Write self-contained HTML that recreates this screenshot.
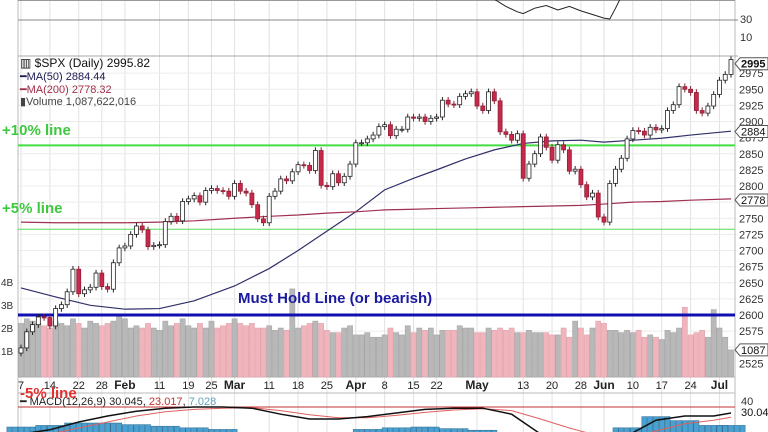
<!DOCTYPE html>
<html><head><meta charset="utf-8">
<style>
html,body{margin:0;padding:0;background:#fff;}
svg{display:block;font-family:"Liberation Sans",sans-serif;}
</style></head>
<body>
<svg id="chart" width="768" height="432" viewBox="0 0 768 432" xmlns="http://www.w3.org/2000/svg">
<rect width="768" height="432" fill="#fff"/>
<g id="grid"></g>
<g id="rsi">
  <line x1="18" y1="20" x2="738" y2="20" stroke="#888" stroke-width="1"/>
  <line x1="18" y1="56" x2="738" y2="56" stroke="#aaa" stroke-width="1"/>
  <text x="740" y="23" font-size="11" fill="#333">30</text>
  <text x="740" y="41" font-size="11" fill="#333">10</text>
</g>
<g id="vol"></g>
<g id="levels"></g>
<g id="ma"></g>
<g id="candles"></g>
<g id="axis"></g>
<g id="macd"></g>
<g font-size="11">
  <text x="20" y="67" font-size="12" fill="#111">▥ $SPX (Daily) 2995.82</text>
  <text x="20" y="80" fill="#1a1a50">━MA(50) 2884.44</text>
  <text x="20" y="93" fill="#a0304a">━MA(200) 2778.32</text>
  <text x="20" y="105" fill="#444">▮Volume 1,087,622,016</text>
</g>
<text x="2" y="135" font-size="15" font-weight="bold" fill="#3ec83e">+10% line</text>
<text x="2" y="213" font-size="15" font-weight="bold" fill="#3ec83e">+5% line</text>
<text x="238" y="303" font-size="15" font-weight="bold" fill="#1a1aa0">Must Hold Line (or bearish)</text>
<text x="20" y="398" font-size="15" font-weight="bold" fill="#e03030">-5% line</text>
</svg>
<script>
const closes=[2549,2574,2585,2597,2596,2583,2610,2616,2636,2671,2633,2639,2643,2665,2644,2640,2681,2704,
2707,2725,2738,2732,2706,2708,2709,2745,2753,2746,2776,2780,2785,2775,2793,2796,2793,2792,2784,
2804,2792,2789,2771,2749,2743,2784,2792,2811,2808,2822,2833,2832,2824,2855,2801,2799,2819,2805,2815,2834,
2867,2867,2873,2879,2892,2895,2878,2888,2888,2907,2905,2907,2900,2905,2907,2933,2927,2926,2939,2943,2946,
2924,2917,2946,2932,2884,2880,2871,2881,2812,2834,2850,2876,2860,2840,2864,2856,2823,2826,2802,2783,2789,2752,
2744,2804,2826,2843,2873,2886,2885,2879,2891,2887,2889,2917,2926,2954,2950,2945,2917,2913,2924,2942,
2964,2973,2996];
const volumes=[2.2,2.4,2.3,2.2,2.1,2.0,2.3,2.2,2.1,2.4,2.2,2.0,2.3,2.2,2.1,2.2,2.3,2.6,
2.4,2.0,2.1,2.0,2.2,2.0,1.9,2.3,2.1,2.2,2.4,2.1,2.0,2.2,2.0,2.3,2.0,2.1,2.2,
2.4,2.2,2.1,2.2,2.0,2.0,2.1,1.9,2.0,1.9,3.7,2.0,2.1,2.2,2.3,2.2,1.9,1.8,1.8,2.0,2.1,
1.7,1.7,1.8,1.6,1.6,1.7,2.0,1.8,1.7,2.1,1.8,2.0,1.9,2.0,1.7,1.9,1.9,1.9,2.1,2.0,2.0,
1.8,1.8,2.0,1.9,2.0,1.9,2.0,1.8,1.8,1.9,1.8,1.8,1.8,1.7,1.7,2.0,1.6,2.3,2.0,1.7,2.0,2.3,
2.2,1.9,1.9,1.8,1.9,1.8,1.9,1.6,1.7,1.6,1.5,1.9,1.8,2.0,2.9,1.7,1.8,1.9,1.6,2.8,
2.0,1.6,1.05];
const maIdx=[0,6,12,18,24,30,37,43,48,53,58,63,68,72,77,82,87,92,97,101,106,111,116,123];
const ma50=[2642,2628,2615,2609,2610,2622,2645,2672,2700,2730,2760,2794,2812,2825,2842,2856,2866,2870,2871,2868,2871,2874,2879,2885];
const ma200=[2744,2743,2743,2743,2744,2746,2750,2753,2755,2758,2760,2763,2764,2765,2766,2767,2768,2769,2770,2772,2775,2776,2778,2780];
const rsiIdx=[82,84,86,87,89,91,93,95,97,99,101,102,103,104];
const rsiVals=[52,44,38,36,42,45,40,44,39,35,31,30,42,55];
const macdIdx=[0,5,10,15,20,25,30,35,40,45,50,55,60,65,70,75,80,85,90,95,100,105,110,115,120,123];
const macdLine=[-5,2,15,25,33,38,40,40,38,28,20,20,24,30,36,38,38,28,-5,-15,-25,-8,18,25,25,30];
const signalLine=[-10,-5,5,15,25,32,36,38,39,34,27,22,22,26,31,35,37,34,20,5,-8,-12,0,12,18,23];
const dateIdx=[0,5,10,14,18,24,29,33,37,43,48,53,58,63,68,72,79,87,92,97,101,106,111,116,121];
const dateLabels=["7","14","22","28","Feb","11","19","25","Mar","11","18","25","Apr","8","15","22","May","13","20","28","Jun","10","17","24","Jul"];
const priceTicks=[2525,2550,2575,2600,2625,2650,2675,2700,2725,2750,2775,2800,2825,2850,2875,2900,2925,2950,2975];
const volTicks=[1,2,3,4];
const levelPrices=[2863,2733,2600];

const NS="http://www.w3.org/2000/svg";
const X0=21,X1=731;
const xs=i=>X0+i*(X1-X0)/(closes.length-1);
const yp=p=>315-(p-2600)*0.645;
const yv=v=>374-v*23;
const yr=v=>19-(v-30)*0.9;
const ym=v=>407+(40-v)*0.6;
function mk(tag,attrs,parent){const e=document.createElementNS(NS,tag);for(const k in attrs)e.setAttribute(k,attrs[k]);parent.appendChild(e);return e;}
const G=id=>document.getElementById(id);

const grid=G('grid');
dateIdx.forEach(i=>{const l=mk('line',{x1:xs(i),x2:xs(i),y1:0,y2:432,stroke:'#e2e2e2','stroke-width':1},grid);

});
priceTicks.forEach(p=>{const l=mk('line',{x1:18,x2:735,y1:yp(p),y2:yp(p),stroke:'#ececec','stroke-width':1},grid);

});
mk('line',{x1:18,x2:18,y1:0,y2:432,stroke:'#bbb'},grid);
mk('line',{x1:735,x2:735,y1:0,y2:432,stroke:'#bbb'},grid);
mk('line',{x1:18,x2:735,y1:0.5,y2:0.5,stroke:'#999'},grid);
mk('line',{x1:18,x2:735,y1:377,y2:377,stroke:'#bbb'},grid);
mk('line',{x1:18,x2:735,y1:393,y2:393,stroke:'#bbb'},grid);

const rsi=G('rsi');
const rl=mk('polyline',{points:rsiIdx.map((i,k)=>xs(i)+','+yr(rsiVals[k])).join(' '),fill:'none',stroke:'#222','stroke-width':1},rsi);



const vol=G('vol');
volumes.forEach((v,i)=>{const up=i===0||closes[i]>=closes[i-1];
const r=mk('rect',{x:xs(i)-2.6,y:yv(v),width:5.2,height:374-yv(v)+3,fill:up?'#b8b8b8':'#f0b4bc',stroke:up?'#a0a0a0':'#e0a0a8','stroke-width':0.5},vol);

});

const lv=G('levels');
const lvStyle=[['#44dd44',2,'plus-10-line'],['#55dd55',1,'plus-5-line'],['#1010b0',3,'must-hold-line']];
levelPrices.forEach((p,k)=>{const l=mk('line',{x1:18,x2:735,y1:yp(p),y2:yp(p),stroke:lvStyle[k][0],'stroke-width':lvStyle[k][1]},lv);

});

const ma=G('ma');
const m50=mk('polyline',{points:maIdx.map((i,k)=>xs(i)+','+yp(ma50[k])).join(' '),fill:'none',stroke:'#30306a','stroke-width':1.2},ma);


const m200=mk('polyline',{points:maIdx.map((i,k)=>xs(i)+','+yp(ma200[k])).join(' '),fill:'none',stroke:'#a03050','stroke-width':1.2},ma);



const cg=G('candles');
closes.forEach((c,i)=>{const o=i===0?c-8:closes[i-1];const up=c>=o;const x=xs(i);
const hi=Math.max(o,c)+5,lo=Math.min(o,c)-5;
const w=mk('line',{x1:x,x2:x,y1:yp(hi),y2:yp(lo),stroke:up?'#222':'#802030','stroke-width':1},cg);


const top=yp(Math.max(o,c)),h=Math.max(1,yp(Math.min(o,c))-top);
const b=mk('rect',{x:x-2,y:top,width:4,height:h,fill:up?'#fff':'#c8284a',stroke:up?'#222':'#902038','stroke-width':0.8},cg);

});

const ax=G('axis');
priceTicks.forEach(p=>{const t=mk('text',{x:739,y:yp(p)+4,'font-size':11,fill:'#333'},ax);t.textContent=p;

});
volTicks.forEach(v=>{const t=mk('text',{x:1,y:yv(v)+4,'font-size':10,fill:'#333'},ax);t.textContent=v+'B';

});
dateIdx.forEach((i,k)=>{const bold=isNaN(+dateLabels[k]);const t=mk('text',{x:xs(i),y:389,'font-size':bold?12:11,'font-weight':bold?'bold':'normal','text-anchor':'middle',fill:'#222'},ax);t.textContent=dateLabels[k];

});
[[2995.82,'2995'],[2884.44,'2884'],[2778.32,'2778']].forEach(([p,s])=>{const y=yp(p)+(p>2990?4:0);
const tg=mk('path',{d:`M735 ${y} L740 ${y-6} H768 V${y+6} H740 Z`,fill:'#fff',stroke:'#555'},ax);


const t=mk('text',{x:741,y:y+4,'font-size':11,'font-weight':p>2990?'bold':'normal',fill:'#111'},ax);t.textContent=s;});
{const y=yv(1.05);mk('path',{d:`M735 ${y} L740 ${y-6} H768 V${y+6} H740 Z`,fill:'#fff',stroke:'#555'},ax);
const t=mk('text',{x:741,y:y+4,'font-size':11,fill:'#111'},ax);t.textContent='1087';}

const mg=G('macd');
macdIdx.forEach((i,k)=>{const h=macdLine[k]-signalLine[k];if(h<=0)return;
for(let d=-2;d<=2;d++){const r=mk('rect',{x:xs(i+d)-2.6,y:431-h*0.8,width:5.2,height:h*0.8+2,fill:'#4aa0d0',stroke:'#2a6a90','stroke-width':0.5},mg);

}});
const rlvl=mk('line',{x1:18,x2:735,y1:ym(40),y2:ym(40),stroke:'#c03030'},mg);
const sl=mk('polyline',{points:macdIdx.map((i,k)=>xs(i)+','+ym(signalLine[k])).join(' '),fill:'none',stroke:'#e06060','stroke-width':1},mg);


const ml=mk('polyline',{points:macdIdx.map((i,k)=>xs(i)+','+ym(macdLine[k])).join(' '),fill:'none',stroke:'#111','stroke-width':1.5},mg);


const mt=mk('text',{x:20,y:405,'font-size':11,fill:'#222'},mg);
mt.innerHTML='━ MACD(12,26,9) 30.045, <tspan fill="#c03030">23.017</tspan>, <tspan fill="#60a0c0">7.028</tspan>';


const t40=mk('text',{x:741,y:405,'font-size':11,fill:'#333'},mg);t40.textContent='40';
const t30=mk('text',{x:741,y:416,'font-size':11,fill:'#111'},mg);t30.textContent='30.04';
</script>
</body></html>
